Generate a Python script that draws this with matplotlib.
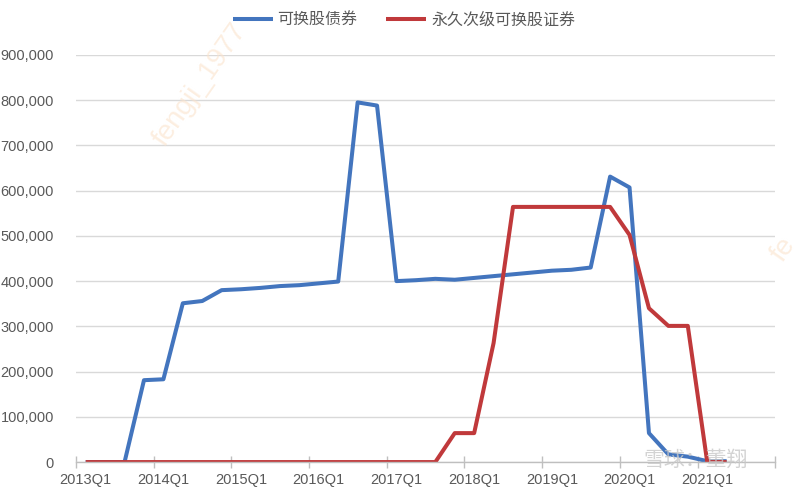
import matplotlib
matplotlib.use("Agg")
import matplotlib.pyplot as plt
from matplotlib.ticker import FuncFormatter, FixedLocator
import numpy as np

plt.rcParams['font.family'] = ['Liberation Sans', 'Noto Sans CJK SC', 'DejaVu Sans']

quarters = [f"{y}Q{q}" for y in range(2013, 2022) for q in range(1, 5)]
convertible = [0, 0, 0, 181000, 183000, 351000, 356000, 380000,
               382000, 385000, 389000, 391000, 395000, 399000, 795000, 788000,
               400000, 402000, 405000, 403000, 407000, 411000, 415000, 419000,
               423000, 425000, 430000, 631000, 607000, 64000, 17000, 12000,
               2000, 2000, None, None]
perpetual = [0, 0, 0, 0, 0, 0, 0, 0,
             0, 0, 0, 0, 0, 0, 0, 0,
             0, 0, 0, 64000, 64000, 263000, 564000, 564000,
             564000, 564000, 564000, 564000, 502000, 340000, 301000, 301000,
             0, 0, None, None]
series_names = ["可换股债券", "永久次级可换股证券"]
yticks = [0, 100000, 200000, 300000, 400000, 500000, 600000, 700000, 800000, 900000]

def arr(v):
    return np.array([np.nan if x is None else x for x in v], dtype=float)

fig = plt.figure(figsize=(8, 4.99), dpi=100)
ax = fig.add_axes([0.095, 0.074, 0.874, 0.816])

x = np.arange(len(quarters))
ax.plot(x, arr(convertible), color='#4375BE', lw=2.9, label=series_names[0],
        solid_joinstyle='round', solid_capstyle='butt')
ax.plot(x, arr(perpetual), color='#C0393B', lw=2.9, label=series_names[1],
        solid_joinstyle='round', solid_capstyle='butt')

ax.set_xlim(-0.5, len(quarters) - 0.5)
ax.set_ylim(0, 900000)
ax.set_yticks(yticks)
ax.yaxis.set_major_formatter(FuncFormatter(lambda v, p: f"{int(v):,}"))
ax.grid(axis='y', color='#D9D9D9', lw=1)
ax.set_axisbelow(True)

# x ticks: marks between categories every 4, labels on Q1
ax.xaxis.set_major_locator(FixedLocator(np.arange(-0.5, len(quarters), 4)))
ax.xaxis.set_minor_locator(FixedLocator(np.arange(0, len(quarters), 4)))
ax.xaxis.set_major_formatter(FuncFormatter(lambda v, p: ""))
ax.set_xticklabels([quarters[i] for i in range(0, len(quarters), 4)], minor=True)
ax.tick_params(axis='x', which='major', direction='inout', length=8, color='#BFBFBF', width=1)
ax.tick_params(axis='x', which='minor', length=0, pad=8, labelsize=10.5, labelcolor='#595959')
ax.tick_params(axis='y', length=0, pad=16, labelsize=10.5, labelcolor='#595959')

for s in ['top', 'right', 'left']:
    ax.spines[s].set_visible(False)
ax.spines['bottom'].set_color('#BFBFBF')
ax.spines['bottom'].set_linewidth(1)

leg = fig.legend(loc='upper center', bbox_to_anchor=(0.505, 1.005), ncol=2, frameon=False,
                 prop={'family': ['Noto Sans CJK SC', 'DejaVu Sans'], 'size': 11.5},
                 handlelength=2.5, columnspacing=1.8, handletextpad=0.3)
for t in leg.get_texts():
    t.set_color('#595959')

# faint watermarks
fig.text(0.25, 0.83, "fengji_1977", rotation=55, color='#FBE3CC', fontsize=20,
         alpha=0.6, ha='center', va='center')
fig.text(0.98, 0.50, "fe", rotation=55, color='#FBE3CC', fontsize=20,
         alpha=0.6, ha='center', va='center')
fig.text(0.87, 0.078, "雪球：董翔", color='#C8C8C8', fontsize=15, alpha=0.8,
         ha='center', va='center', family=['Noto Sans CJK SC', 'DejaVu Sans'])

fig.savefig("out.png", dpi=100)
